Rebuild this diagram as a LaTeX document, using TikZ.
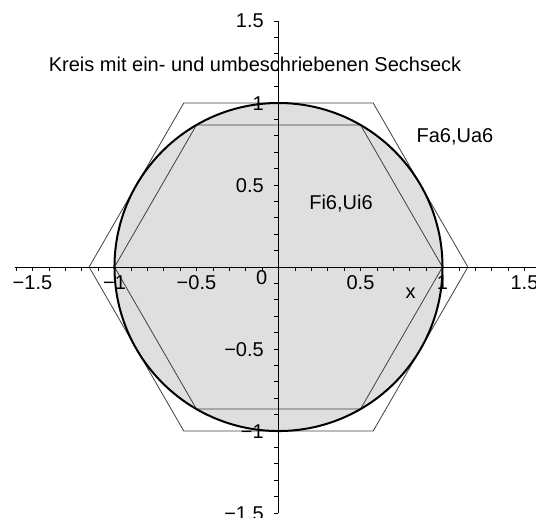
\documentclass[tikz,border=0pt]{standalone}
\usepackage{fontspec}
\setmainfont{Liberation Sans}
\begin{document}
\begin{tikzpicture}[x=164pt,y=164pt,
  lbl/.style={font=\fontsize{20}{24}\selectfont, inner sep=0pt, text=black},
  hexline/.style={draw=black!75, line width=0.8pt},
  axisline/.style={draw=black, line width=0.9pt},
  tickline/.style={draw=black, line width=0.7pt},
  circline/.style={draw=black, line width=2pt}]
\useasboundingbox (-1.698,-1.530) rectangle (1.570,1.628);
% filled circle
\fill[gray!25] (0,0) circle (1);
% inscribed hexagon
\draw[hexline] (0:1) -- (60:1) -- (120:1) -- (180:1) -- (240:1) -- (300:1) -- cycle;
% circumscribed hexagon
\draw[hexline] (0:1.1547) -- (60:1.1547) -- (120:1.1547) -- (180:1.1547) -- (240:1.1547) -- (300:1.1547) -- cycle;
% circle
\draw[circline] (0,0) circle (1);
% axes
\draw[axisline] (-1.607,0) -- (1.570,0);
\draw[axisline] (0,-1.5) -- (0,1.5);
\foreach \i in {-16,...,15} \draw[tickline] (\i/10,0) -- ++(0pt,-4pt);
\foreach \i in {-15,...,15} \draw[tickline] (0,\i/10) -- ++(-4.5pt,0pt);
% x tick labels
\foreach \v/\t/\n in {-1.5/−1.5/a,-1/−1/b,-0.5/−0.5/c,0.5/0.5/d,1/1/e,1.5/1.5/f}
  \node[lbl, anchor=base] (xt\n) at (\v,-0.140) {\t};
\node[lbl, anchor=base] (zero) at (-0.102,-0.104) {0};
% y tick labels
\foreach \v/\t/\n in {-1.5/−1.5/a,-1/−1/b,-0.5/−0.5/c,0.5/0.5/d,1/1/e,1.5/1.5/f}
  \node[lbl, anchor=base east] (yt\n) at ([xshift=-14.5pt,yshift=-7pt]0,\v) {\t};
\node[lbl, anchor=base] (xlab) at (0.805,-0.189) {x};
% texts
\node[lbl, anchor=base] (title) at (-0.143,1.195) {Kreis mit ein- und umbeschriebenen Sechseck};
\node[lbl, anchor=base] (fa) at (1.076,0.758) {Fa6,Ua6};
\node[lbl, anchor=base] (fi) at (0.381,0.348) {Fi6,Ui6};
\end{tikzpicture}
\end{document}
